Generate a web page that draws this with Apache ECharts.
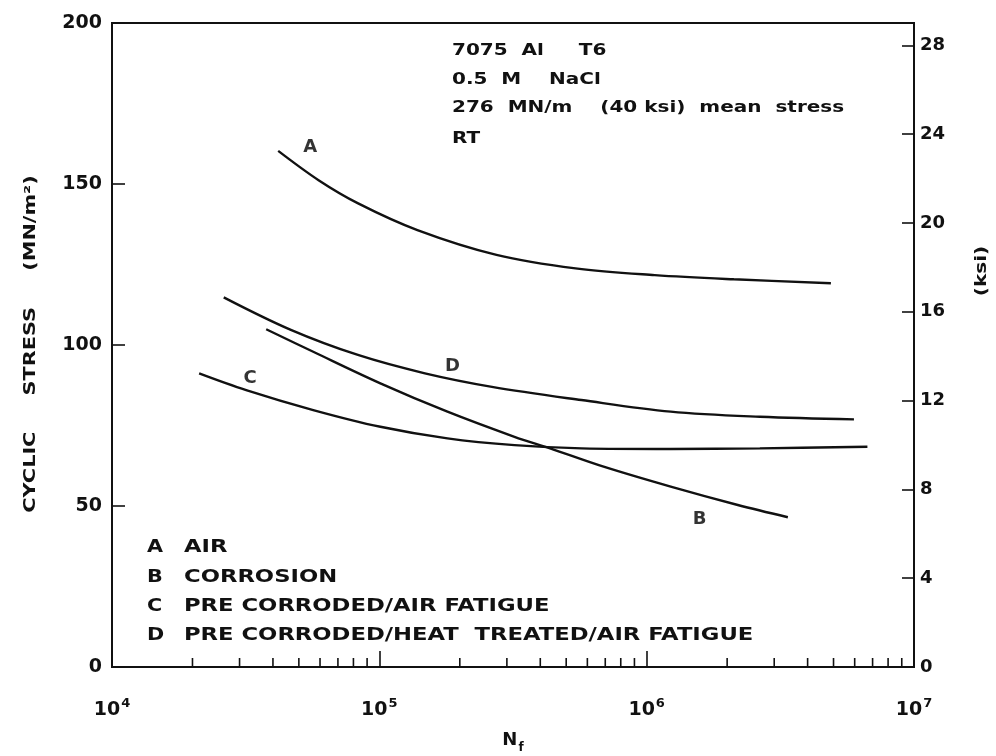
<!DOCTYPE html>
<html><head><meta charset="utf-8">
<script src="https://cdn.jsdelivr.net/npm/echarts@6/dist/echarts.min.js"></script>
<style>html,body{margin:0;padding:0;background:#fff}#c{width:996px;height:756px}</style>
</head><body><div id="c"></div><script>
// ---- data ----
const airN = [41850, 59250, 83300, 138800, 274300, 542000, 1072000, 2118000, 4888000];
const airS = [160.3, 151.2, 144.0, 135.7, 128.0, 123.8, 121.7, 120.4, 119.2];
const corrosionN = [37740, 56590, 100900, 179800, 320300, 435100, 690200, 1230000, 2192000, 3374000];
const corrosionS = [104.9, 97.9, 88.1, 79.3, 71.5, 67.9, 62.2, 56.0, 50.3, 46.5];
const preCorrN = [21180, 31760, 56590, 100900, 179800, 320300, 571000, 1230000, 2650000, 6695000];
const preCorrS = [91.2, 86.0, 79.8, 74.6, 71.0, 68.9, 67.9, 67.7, 67.9, 68.4];
const heatN = [26180, 46670, 83150, 148100, 263800, 569900, 1230000, 2650000, 5962000];
const heatS = [114.8, 104.7, 96.9, 91.2, 87.0, 82.9, 79.3, 77.7, 76.9];
const curveLabelText = ['A', 'B', 'C', 'D'];
const curveLabelN = [55150, 1579000, 32870, 187700];
const curveLabelS = [161.5, 46.0, 89.8, 93.5];
const minorTickN = [2e4,3e4,4e4,5e4,6e4,7e4,8e4,9e4, 2e5,3e5,4e5,5e5,6e5,7e5,8e5,9e5, 2e6,3e6,4e6,5e6,6e6,7e6,8e6,9e6];
const legendKeys = ['A', 'B', 'C', 'D'];
const legendTexts = ['AIR', 'CORROSION', 'PRE CORRODED/AIR FATIGUE', 'PRE CORRODED/HEAT  TREATED/AIR FATIGUE'];
const infoLines = ['7075  Al     T6', '0.5  M    NaCl', '276  MN/m    (40 ksi)  mean  stress', 'RT'];
const MPA_PER_KSI = 6.895;
const stressMax = 200;

const FONT = '"DejaVu Sans", sans-serif';
const INK = '#111111';
const zip = (a, b) => a.map((v, i) => [v, b[i]]);

const chart = echarts.init(document.getElementById('c'), null, {renderer: 'canvas'});

function line(name, n, s) {
  return {
    name, type: 'line', data: zip(n, s), smooth: 0.35, symbol: 'none',
    lineStyle: {color: INK, width: 2.4}, xAxisIndex: 0, yAxisIndex: 0, z: 3
  };
}

const legendY = [547, 577, 606, 635];
const infoY = [51, 80, 108, 139];
const graphics = [];
const txt = (text, size, extra) => Object.assign({text, fontSize: size, fontFamily: FONT, fontWeight: 'bold', fill: INK, textVerticalAlign: 'middle'}, extra || {});
legendKeys.forEach((k, i) => {
  graphics.push({type: 'text', x: 147, y: legendY[i], scaleX: 1.15, style: txt(k, 18)});
  graphics.push({type: 'text', x: 184, y: legendY[i], scaleX: 1.26, style: txt(legendTexts[i], 18)});
});
infoLines.forEach((t, i) => {
  graphics.push({type: 'text', x: 452, y: infoY[i], scaleX: 1.25, style: txt(t, 16)});
});
graphics.push({type: 'text', x: 31, y: 344, rotation: Math.PI / 2, scaleX: 1.3,
  style: txt('CYCLIC     STRESS     (MN/m²)', 16, {textAlign: 'center'})});
graphics.push({type: 'text', x: 982, y: 271, rotation: Math.PI / 2, scaleX: 1.25,
  style: txt('(ksi)', 16, {textAlign: 'center'})});

const option = {
  backgroundColor: '#ffffff',
  animation: false,
  textStyle: {fontFamily: FONT},
  grid: {left: 112, right: 82, top: 23, bottom: 89, show: true, borderColor: INK, borderWidth: 2,
    containLabel: false, outerBoundsMode: 'none'},
  xAxis: {
    type: 'log', logBase: 10, min: 1e4, max: 1e7,
    name: '{n|N}{s|f}', nameLocation: 'middle', nameGap: 64,
    nameTextStyle: {rich: {
      n: {fontSize: 18, fontFamily: FONT, fontWeight: 'bold', color: INK, verticalAlign: 'bottom', lineHeight: 18},
      s: {fontSize: 12, fontFamily: FONT, fontWeight: 'bold', color: INK, verticalAlign: 'bottom', lineHeight: 12, padding: [0, 0, -5, 1]}
    }},
    axisLine: {lineStyle: {color: INK, width: 2}},
    axisTick: {inside: true, length: 16, lineStyle: {color: INK, width: 1.6}},
    splitLine: {show: false},
    axisLabel: {
      margin: 33,
      formatter: v => '{b|10}{s|' + Math.round(Math.log10(v)) + '}',
      rich: {
        b: {fontSize: 19, fontFamily: FONT, fontWeight: 'bold', color: INK, lineHeight: 20, verticalAlign: 'bottom'},
        s: {fontSize: 13, fontFamily: FONT, fontWeight: 'bold', color: INK, lineHeight: 13, verticalAlign: 'bottom', padding: [0, 0, 10, 1]}
      }
    }
  },
  yAxis: [{
    type: 'value', min: 0, max: stressMax, interval: 50, position: 'left',
    axisLine: {show: true, lineStyle: {color: INK, width: 2}},
    axisTick: {show: true, inside: true, length: 13, lineStyle: {color: INK, width: 1.6}},
    splitLine: {show: false},
    axisLabel: {fontSize: 19, fontFamily: FONT, fontWeight: 'bold', color: INK, margin: 10}
  }, {
    type: 'value', min: 0, max: stressMax / MPA_PER_KSI, interval: 4, position: 'right',
    axisLine: {show: true, lineStyle: {color: INK, width: 2}},
    axisTick: {show: true, inside: true, length: 12, lineStyle: {color: INK, width: 1.6}},
    splitLine: {show: false},
    axisLabel: {fontSize: 18, fontFamily: FONT, fontWeight: 'bold', color: INK, margin: 6, showMaxLabel: false}
  }],
  series: [
    line('A AIR', airN, airS),
    line('B CORROSION', corrosionN, corrosionS),
    line('C PRE CORRODED/AIR FATIGUE', preCorrN, preCorrS),
    line('D PRE CORRODED/HEAT TREATED/AIR FATIGUE', heatN, heatS),
    {
      type: 'scatter', symbolSize: 0, silent: true, z: 4,
      data: curveLabelText.map((t, i) => ({name: t, value: [curveLabelN[i], curveLabelS[i]]})),
      label: {show: true, position: 'inside', formatter: '{b}', fontSize: 18, fontFamily: FONT, fontWeight: 'bold', color: '#000'}
    },
    {
      type: 'custom', silent: true, clip: false, z: 5,
      data: minorTickN.map(v => [v, 0]),
      renderItem: function (params, api) {
        const p = api.coord([api.value(0), 0]);
        return {type: 'line', shape: {x1: p[0], y1: p[1], x2: p[0], y2: p[1] - 9},
          style: {stroke: INK, lineWidth: 1.6}};
      }
    }
  ],
  graphic: graphics
};
chart.setOption(option);
</script></body></html>
